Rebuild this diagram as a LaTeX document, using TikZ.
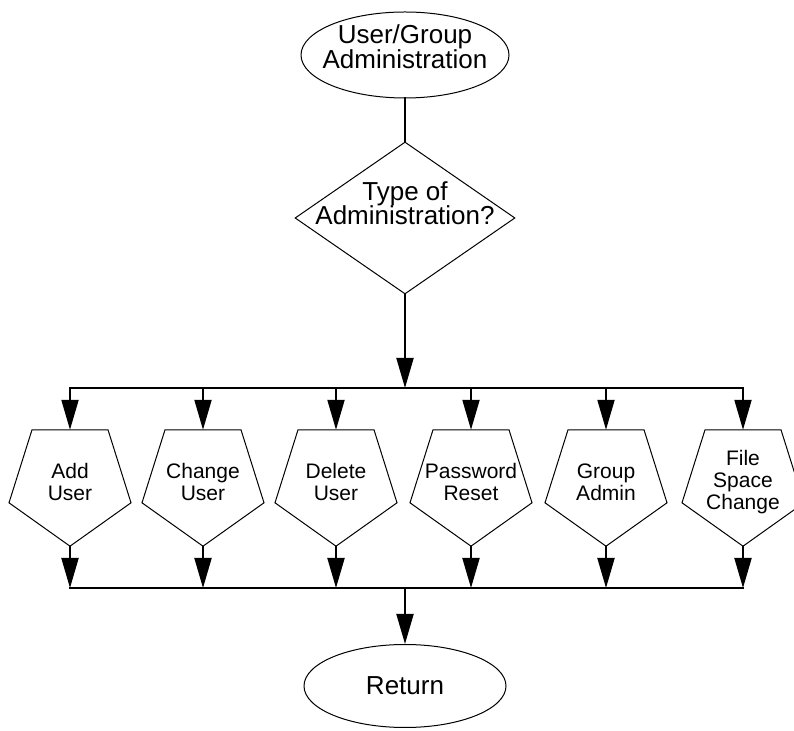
\documentclass[tikz,border=0pt]{standalone}
\usepackage{fontspec}
\setmainfont{Liberation Sans}
\usetikzlibrary{arrows.meta,shapes.geometric}
\tikzset{
    % terminals (start / return)
    terminal/.style={
        ellipse, draw, line width=1pt, inner sep=0pt,
        minimum width=208pt, minimum height=86pt,
        font=\fontsize{26}{25}\selectfont
    },
    % decision diamond
    decision/.style={
        diamond, draw, line width=1pt, inner sep=0pt,
        minimum width=220pt, minimum height=152pt
    },
    % task box, outline drawn around it
    task/.style={
        rectangle, inner sep=0pt,
        minimum width=122pt, minimum height=116pt
    },
    % texts
    bigtext/.style={align=center, inner sep=0pt, font=\fontsize{26}{24.5}\selectfont},
    smalltext/.style={align=center, inner sep=0pt, font=\fontsize{21}{21.7}\selectfont},
    % lines
    outline/.style={line width=1pt, line join=miter},
    link/.style={line width=2pt, line cap=rect},
    flow/.style={line width=2pt, -{Triangle[length=30pt,width=17pt]}},
}
\begin{document}
\begin{tikzpicture}[x=1pt,y=1pt]
  \useasboundingbox (0,0) rectangle (794,730);

  % start and decision
  \node[terminal] (start) at (405,675) {};
  \node[bigtext] (start-txt) at ([yshift=8.5pt]start.center) {User/Group\\Administration};
  \node[decision] (kind) at (405,512) {};
  \node[bigtext] (kind-txt) at ([yshift=15pt]kind.center) {Type of\\Administration?};
  \draw[link] (start) -- (kind);

  % split and join bars
  \coordinate (split) at (405,342);
  \coordinate (join) at (405,142);
  \draw[flow] (kind.south) -- (split);

  % tasks
  \foreach \x/\n/\lbl in {70/add/{Add\\User}, 203/change/{Change\\User},
                          336/delete/{Delete\\User}, 471/reset/{Password\\Reset},
                          606/group/{Group\\Admin}, 743/space/{File\\Space\\Change}} {
    \node[task] (\n) at (\x,242) {};
    \node[smalltext] (\n-txt) at ([yshift=6pt]\n.center) {\lbl};
    \draw[outline] ([xshift=-38pt]\n.north) -- ([xshift=38pt]\n.north)
      -- ([xshift=61pt,yshift=-73pt]\n.north) -- (\n.south)
      -- ([xshift=-61pt,yshift=-73pt]\n.north) -- cycle;
    \draw[flow] (\n.north |- split) -- (\n.north);
    \draw[flow] (\n.south) -- (\n.south |- join);
  }
  \draw[link] (add.north |- split) -- (space.north |- split);
  \draw[link] (add.south |- join) -- (space.south |- join);

  % return
  \node[terminal, minimum width=202pt, minimum height=83pt] (ret) at (405,44) {Return};
  \draw[flow] (join) -- (ret);
\end{tikzpicture}
\end{document}
